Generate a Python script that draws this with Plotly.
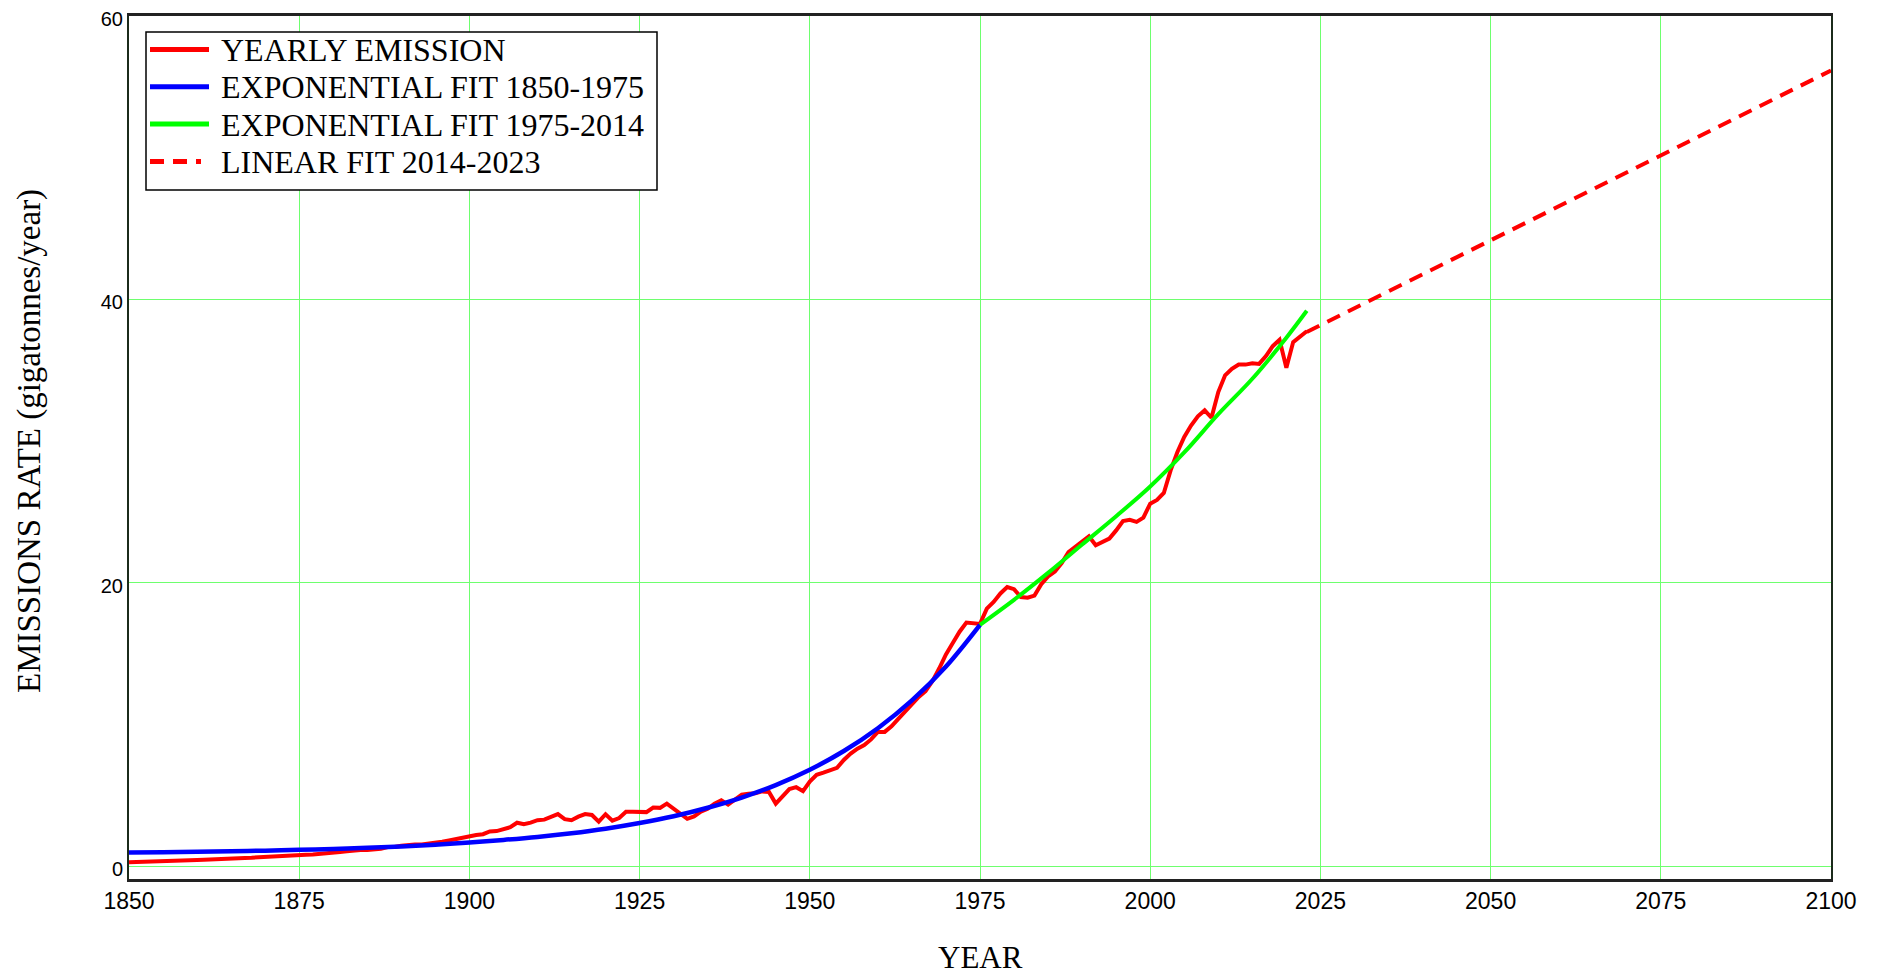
import plotly.graph_objects as go

# ---- data ----
years = list(range(1850, 2024))
emissions = [
    0.28, 0.29, 0.30, 0.31, 0.34, 0.35, 0.37, 0.38, 0.39, 0.41,   # 1850-1859
    0.44, 0.46, 0.47, 0.49, 0.52, 0.55, 0.56, 0.59, 0.60, 0.63,   # 1860-1869
    0.67, 0.70, 0.75, 0.79, 0.76, 0.81, 0.82, 0.83, 0.86, 0.90,   # 1870-1879
    0.98, 1.00, 1.05, 1.13, 1.14, 1.15, 1.17, 1.23, 1.35, 1.36,   # 1880-1889
    1.45, 1.52, 1.54, 1.53, 1.58, 1.68, 1.73, 1.82, 1.92, 2.08,   # 1890-1899
    2.14, 2.21, 2.26, 2.46, 2.48, 2.62, 2.75, 3.07, 2.96, 3.08,   # 1900-1909
    3.25, 3.29, 3.45, 3.68, 3.32, 3.25, 3.50, 3.68, 3.62, 3.15,   # 1910-1919
    3.67, 3.22, 3.40, 3.84, 3.85, 3.86, 3.82, 4.14, 4.12, 4.42,   # 1920-1929
    4.08, 3.68, 3.35, 3.52, 3.86, 4.05, 4.42, 4.65, 4.35, 4.70,   # 1930-1939
    5.05, 5.12, 5.15, 5.28, 5.24, 4.42, 4.95, 5.45, 5.58, 5.30,   # 1940-1949
    5.98, 6.45, 6.60, 6.78, 6.95, 7.50, 7.95, 8.30, 8.55, 8.95,   # 1950-1959
    9.48, 9.48, 9.88, 10.40, 10.95, 11.45, 11.95, 12.35, 13.05, 13.95,  # 1960-1969
    14.95, 15.75, 16.55, 17.20, 17.15, 17.10, 18.18, 18.65, 19.25, 19.70,  # 1970-1979
    19.55, 19.00, 18.95, 19.10, 19.90, 20.45, 20.80, 21.40, 22.17, 22.55,  # 1980-1989
    22.90, 23.28, 22.65, 22.85, 23.12, 23.70, 24.36, 24.45, 24.30, 24.60,  # 1990-1999
    25.59, 25.85, 26.34, 27.94, 29.23, 30.30, 31.10, 31.75, 32.17, 31.65,  # 2000-2009
    33.46, 34.64, 35.10, 35.41, 35.40, 35.50, 35.45, 36.00, 36.70, 37.15,  # 2010-2019
    35.18, 36.99, 37.35, 37.75,                                      # 2020-2023
]

fit1_years = [1850, 1855, 1860, 1865, 1870, 1875, 1880, 1885, 1890, 1895,
              1900, 1905, 1910, 1915, 1920, 1925, 1930, 1935, 1940, 1945,
              1950, 1955, 1960, 1965, 1970, 1975]
fit1_values = [0.97, 0.99, 1.02, 1.06, 1.10, 1.16, 1.22, 1.30, 1.40, 1.52,
               1.68, 1.86, 2.07, 2.33, 2.65, 3.05, 3.53, 4.13, 4.85, 5.73,
               6.81, 8.13, 9.74, 11.70, 14.10, 17.04]

fit2_years = [1975, 1980, 1985, 1990, 1995, 2000, 2005, 2010, 2015, 2020, 2023]
fit2_values = [17.04, 18.80, 20.70, 22.70, 24.70, 26.80, 29.20, 31.90, 34.40, 37.30, 39.20]

lin_years = [2023, 2100]
lin_values = [37.70, 56.15]

x_ticks = [1850, 1875, 1900, 1925, 1950, 1975, 2000, 2025, 2050, 2075, 2100]
y_ticks = [0, 20, 40, 60]

series_names = ["YEARLY EMISSION", "EXPONENTIAL FIT 1850-1975",
                "EXPONENTIAL FIT 1975-2014", "LINEAR FIT 2014-2023"]
series_colors = ["#ff0000", "#0000ff", "#00ff00", "#ff0000"]
series_dash = ["solid", "solid", "solid", "14px,9px"]

x_title = "YEAR"
y_title = "EMISSIONS RATE (gigatonnes/year)"

# ---- page geometry (pixels) ----
W, H = 1886, 976
ML, MR, MT, MB = 129, 55, 16, 97
PW, PH = W - ML - MR, H - MT - MB


def px_x(p):
    return (p - ML) / PW


def px_y(p):
    return (H - MB - p) / PH


# ---- figure ----
fig = go.Figure()
series_x = [years, fit1_years, fit2_years, lin_years]
series_y = [emissions, fit1_values, fit2_values, lin_values]
series_w = [4, 4.5, 4, 4]
series_shape = ["linear", "spline", "spline", "linear"]
for xs, ys, nm, col, ds, w, sh in zip(series_x, series_y, series_names,
                                        series_colors, series_dash, series_w,
                                        series_shape):
    fig.add_trace(go.Scatter(x=xs, y=ys, mode="lines", name=nm, showlegend=False,
                             line=dict(color=col, width=w, dash=ds, shape=sh)))

# ---- legend drawn as a framed box ----
shapes = [dict(type="rect", xref="paper", yref="paper",
               x0=px_x(146), x1=px_x(657), y0=px_y(190), y1=px_y(32),
               line=dict(color="black", width=1.5), fillcolor="white", layer="above")]
annotations = []
row_y = [49.5, 86.8, 124.1, 161.4]
for i, (nm, col, ds) in enumerate(zip(series_names, series_colors, series_dash)):
    x_end = 201 if ds != "solid" else 209
    shapes.append(dict(type="line", xref="paper", yref="paper",
                       x0=px_x(150), x1=px_x(x_end), y0=px_y(row_y[i]), y1=px_y(row_y[i]),
                       line=dict(color=col, width=5, dash=ds), layer="above"))
    annotations.append(dict(xref="paper", yref="paper", x=px_x(219), y=px_y(row_y[i] + 0.5),
                            xanchor="left", yanchor="middle", showarrow=False, text=nm,
                            font=dict(family="Liberation Serif", size=32, color="black")))

# axis titles
annotations.append(dict(xref="paper", yref="paper", x=px_x(980), y=px_y(957),
                        xanchor="center", yanchor="middle", showarrow=False, text=x_title,
                        font=dict(family="Liberation Serif", size=31, color="black")))
annotations.append(dict(xref="paper", yref="paper", x=px_x(30), y=px_y(441),
                        xanchor="center", yanchor="middle", showarrow=False, text=y_title,
                        textangle=-90,
                        font=dict(family="Liberation Serif", size=33, color="black")))

grid_col = "rgb(110,255,110)"
fig.update_layout(
    width=W, height=H,
    margin=dict(l=ML, r=MR, t=MT, b=MB, autoexpand=False),
    paper_bgcolor="white", plot_bgcolor="white",
    showlegend=False,
    shapes=shapes,
    annotations=annotations,
    xaxis=dict(range=[1850, 2100], tickvals=x_ticks,
               ticktext=[str(v) for v in x_ticks],
               showgrid=True, gridcolor=grid_col, gridwidth=1,
               zeroline=False, ticks="", automargin=False,
               showline=True, linecolor="#222222", linewidth=2.5, mirror=True,
               tickfont=dict(family="Liberation Sans", size=23, color="black")),
    yaxis=dict(range=[-0.9, 60], tickvals=y_ticks,
               showgrid=True, gridcolor=grid_col, gridwidth=1,
               zeroline=False, ticks="", automargin=False, ticklabelshift=3,
               showline=True, linecolor="#1b2b1b", linewidth=2, mirror=True,
               tickfont=dict(family="Liberation Sans", size=20, color="black")),
)

fig.write_html("out.html")
